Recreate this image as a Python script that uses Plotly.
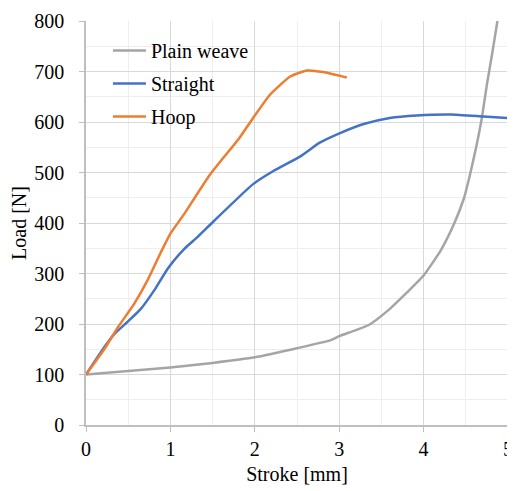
import plotly.graph_objects as go

plain_x = [0, 0.5, 1.0, 1.5, 2.0, 2.5, 2.9, 3.0, 3.35, 3.6, 3.8, 4.0, 4.2, 4.36, 4.48, 4.56, 4.63, 4.69, 4.75, 4.81, 4.87, 4.93]
plain_y = [100, 107, 114, 123, 134, 152, 168, 176, 198, 230, 262, 296, 345, 398, 450, 503, 556, 608, 674, 733, 795, 870]

straight_x = [0, 0.22, 0.34, 0.49, 0.65, 0.81, 0.97, 1.16, 1.32, 1.51, 1.98, 2.22, 2.54, 2.77, 3.01, 3.29, 3.6, 3.92, 4.32, 4.71, 5.0]
straight_y = [100, 155, 181, 204, 230, 267, 310, 348, 372, 403, 477, 503, 532, 559, 578, 596, 608, 613, 615, 611, 608]

hoop_x = [0, 0.22, 0.38, 0.57, 0.73, 0.89, 1.0, 1.16, 1.47, 1.82, 1.98, 2.18, 2.42, 2.62, 2.81, 3.09]
hoop_y = [100, 151, 194, 240, 287, 343, 379, 417, 496, 569, 608, 654, 690, 702, 699, 688]

FONT = "Liberation Serif"

fig = go.Figure()
fig.add_trace(go.Scatter(x=plain_x, y=plain_y, mode="lines", name="Plain weave", legendgroup="a",
                         line=dict(color="#a5a5a5", width=2.5, shape="spline", smoothing=0.5)))
fig.add_trace(go.Scatter(x=straight_x, y=straight_y, mode="lines", name="Straight", legendgroup="b",
                         line=dict(color="#4472c4", width=2.5, shape="spline", smoothing=0.5)))
fig.add_trace(go.Scatter(x=hoop_x, y=hoop_y, mode="lines", name="Hoop", legendgroup="c",
                         line=dict(color="#ed7d31", width=2.5, shape="spline", smoothing=0.5)))

fig.update_layout(
    width=507, height=483,
    margin=dict(l=78, r=7, t=13, b=66, autoexpand=False),
    paper_bgcolor="white", plot_bgcolor="white",
    font=dict(family=FONT, size=20, color="black"),
    showlegend=True,
    legend=dict(x=0.052, y=0.975, xanchor="left", yanchor="top",
                bgcolor="rgba(0,0,0,0)", font=dict(size=20, family=FONT),
                tracegroupgap=4, itemwidth=33),
    xaxis=dict(range=[0, 5], dtick=1, showgrid=True, gridcolor="#d9d9d9", gridwidth=1,
               minor=dict(dtick=0.5, showgrid=True, gridcolor="#eeeeee", gridwidth=1),
               showline=True, linecolor="#bfbfbf", linewidth=1.5,
               ticks="outside", ticklen=5, tickcolor="#bfbfbf", ticklabelstandoff=0,
               zeroline=False, automargin=False,
               title=dict(text="Stroke [mm]", font=dict(size=20, family=FONT), standoff=8)),
    yaxis=dict(range=[0, 800], dtick=100, showgrid=True, gridcolor="#d9d9d9", gridwidth=1,
               minor=dict(dtick=50, showgrid=True, gridcolor="#eeeeee", gridwidth=1),
               showline=True, linecolor="#bfbfbf", linewidth=1.5,
               ticks="outside", ticklen=5, tickcolor="#bfbfbf", ticklabelstandoff=11,
               zeroline=False, automargin=False,
               title=dict(text="Load [N]", font=dict(size=20, family=FONT), standoff=2)),
)

fig.write_html("out.html")
